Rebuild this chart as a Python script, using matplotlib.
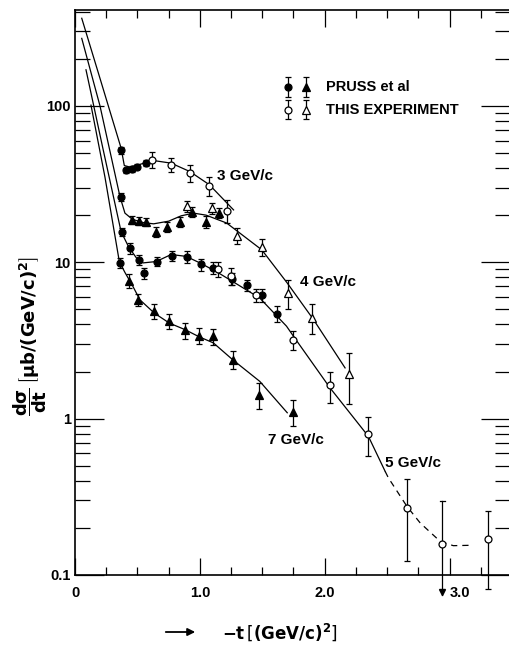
import numpy as np
import matplotlib
matplotlib.use('Agg')
import matplotlib.pyplot as plt
from matplotlib.ticker import LogLocator, NullFormatter, FixedLocator
from matplotlib.transforms import ScaledTranslation

plt.rcParams['font.family'] = ['Liberation Sans', 'DejaVu Sans']
plt.rcParams['mathtext.fontset'] = 'dejavusans'
plt.rcParams['mathtext.default'] = 'bf'

# ---- data ----
# 3 GeV/c
p3_x = [0.37, 0.41, 0.46, 0.50, 0.57]            # Pruss, filled circles
p3_y = [52.0, 38.7, 39.5, 40.9, 43.1]
p3_e = [2.6, 1.6, 1.6, 1.6, 2.0]
t3_x = [0.62, 0.77, 0.92, 1.076, 1.22]           # this experiment, open circles
t3_y = [45.2, 42.0, 37.2, 30.8, 21.4]
t3_e = [5.4, 4.2, 4.5, 4.3, 3.6]

# 4 GeV/c
p4c_x = [0.37]
p4c_y = [26.1]
p4c_e = [1.6]
p4_x = [0.46, 0.51, 0.57, 0.65, 0.74, 0.84, 0.94, 1.047, 1.154]
p4_y = [18.7, 18.4, 18.1, 15.6, 16.8, 18.1, 21.1, 18.2, 20.6]
p4_e = [1.1, 1.1, 1.1, 1.2, 1.3, 1.4, 1.5, 1.6, 1.5]
t4_x = [0.895, 1.095, 1.295, 1.496, 1.704, 1.90, 2.198]
t4_y = [22.8, 22.2, 14.8, 12.5, 6.4, 4.43, 1.94]
t4_e = [1.9, 1.8, 1.8, 1.5, 1.35, 0.95, 0.7]

# 5 GeV/c
p5_x = [0.38, 0.44, 0.513, 0.555, 0.66, 0.78, 0.895, 1.01, 1.108, 1.26, 1.381, 1.496, 1.616]
p5_y = [15.6, 12.3, 10.4, 8.5, 10.1, 11.0, 10.8, 9.7, 9.2, 7.8, 7.1, 6.14, 4.69]
p5_e = [0.9, 0.93, 0.8, 0.7, 0.7, 0.78, 0.95, 0.85, 0.8, 0.7, 0.6, 0.6, 0.56]
t5_x = [1.148, 1.247, 1.448, 1.75, 2.043, 2.35, 2.663, 3.31]
t5_y = [9.05, 8.2, 6.14, 3.2, 1.63, 0.80, 0.268, 0.169]
t5_e = [1.05, 1.0, 0.6, 0.45, 0.37, 0.22, 0.146, 0.088]
# upper-limit-like point with arrow
u5_x = 2.943
u5_y = 0.158
u5_hi = 0.296
u5_lo = 0.075

# 7 GeV/c
p7c_x = [0.36]
p7c_y = [9.9]
p7c_e = [0.75]
p7_x = [0.433, 0.507, 0.635, 0.756, 0.88, 0.996, 1.108, 1.263, 1.474, 1.744]
p7_y = [7.6, 5.75, 4.85, 4.19, 3.66, 3.39, 3.36, 2.38, 1.42, 1.11]
p7_e = [0.76, 0.52, 0.53, 0.46, 0.42, 0.4, 0.4, 0.31, 0.26, 0.21]

# fitted curves (knots)
c3_x = [0.054, 0.20, 0.369, 0.395, 0.44, 0.52, 0.62, 0.77, 0.92, 1.076, 1.27]
c3_y = [363, 150, 53.7, 41.5, 40.6, 42.2, 44.8, 43.0, 38.0, 31.3, 21.6]
c4_x = [0.054, 0.20, 0.36, 0.40, 0.46, 0.55, 0.63, 0.75, 0.85, 0.95, 1.05, 1.215,
        1.496, 1.70, 1.91, 2.163]
c4_y = [270, 100, 26.3, 20.6, 18.8, 17.9, 17.6, 18.3, 19.8, 20.6, 20.0, 17.8,
        12.0, 7.36, 4.30, 2.11]
c5_x = [0.088, 0.22, 0.369, 0.428, 0.49, 0.545, 0.65, 0.77, 0.89, 1.00, 1.133,
        1.266, 1.48, 1.694, 1.75, 2.043, 2.35, 2.484]
c5_y = [170, 55, 15.7, 12.6, 10.7, 9.9, 10.1, 11.2, 10.9, 9.9, 8.7,
        7.5, 5.9, 3.9, 3.36, 1.57, 0.77, 0.46]
c5d_x = [2.484, 2.51, 2.658, 2.765, 2.925, 3.03, 3.19]
c5d_y = [0.46, 0.418, 0.275, 0.215, 0.164, 0.154, 0.155]
c7_x = [0.128, 0.24, 0.355, 0.40, 0.46, 0.52, 0.635, 0.756, 0.88, 0.996, 1.108,
        1.263, 1.48, 1.70]
c7_y = [101, 35, 10.1, 8.6, 7.1, 5.75, 4.73, 4.08, 3.71, 3.33, 3.05,
        2.38, 1.73, 1.09]

labels = ['3 GeV/c', '4 GeV/c', '5 GeV/c', '7 GeV/c']

# ---- figure ----
fig = plt.figure(figsize=(5.09, 6.50), dpi=100)
ax = fig.add_axes([75 / 509, 75 / 650, 434.5 / 509, 565 / 650])
ax.set_yscale('log')
ax.set_xlim(0, 3.48)
ax.set_ylim(0.1, 410)

k = 'black'
lw = 0.9
for cx, cy in [(c3_x, c3_y), (c4_x, c4_y), (c5_x, c5_y), (c7_x, c7_y)]:
    ax.plot(cx, cy, color=k, lw=lw)
ax.plot(c5d_x, c5d_y, color=k, lw=lw, ls=(0, (5, 4)))

ebkw = dict(ls='none', ecolor=k, elinewidth=0.9, capsize=2.2, capthick=0.9,
            mec=k, mew=0.9, clip_on=False)
# filled circles
for xs, ys, es in [(p3_x, p3_y, p3_e), (p4c_x, p4c_y, p4c_e), (p5_x, p5_y, p5_e),
                   (p7c_x, p7c_y, p7c_e)]:
    ax.errorbar(xs, ys, yerr=es, marker='o', ms=5, mfc=k, **ebkw)
# filled triangles
for xs, ys, es in [(p4_x, p4_y, p4_e), (p7_x, p7_y, p7_e)]:
    ax.errorbar(xs, ys, yerr=es, marker='^', ms=6, mfc=k, **ebkw)
# open circles
for xs, ys, es in [(t3_x, t3_y, t3_e), (t5_x, t5_y, t5_e)]:
    ax.errorbar(xs, ys, yerr=es, marker='o', ms=5, mfc='white', **ebkw)
# open triangles
ax.errorbar(t4_x, t4_y, yerr=t4_e, marker='^', ms=6, mfc='white', **ebkw)

# point with downward arrow
ax.plot([u5_x, u5_x], [u5_lo, u5_hi], color=k, lw=0.9, clip_on=False)
ax.plot([u5_x - 0.02, u5_x + 0.02], [u5_hi, u5_hi], color=k, lw=0.9, clip_on=False)
ax.plot([u5_x], [u5_lo * 1.04], marker='v', ms=5, color=k, clip_on=False)
ax.plot([u5_x], [u5_y], marker='o', ms=5, mfc='white', mec=k, mew=0.9, zorder=5)

# curve labels
tkw = dict(fontsize=11, fontweight='bold', ha='left', va='center')
ax.text(1.136, 35.7, labels[0], **tkw)
ax.text(1.806, 7.43, labels[1], **tkw)
ax.text(2.486, 0.521, labels[2], **tkw)
ax.text(1.547, 0.735, labels[3], **tkw)

# legend drawn by hand
lkw = dict(ls='none', ecolor=k, elinewidth=0.9, capsize=2.2, capthick=0.9,
           mec=k, mew=0.9)
ax.errorbar([1.702], [131.6], yerr=[[17], [21]], marker='o', ms=5, mfc=k, **lkw)
ax.errorbar([1.854], [131.6], yerr=[[17], [21]], marker='^', ms=6, mfc=k, **lkw)
ax.errorbar([1.702], [94.3], yerr=[[12], [15]], marker='o', ms=5, mfc='white', **lkw)
ax.errorbar([1.854], [94.3], yerr=[[12], [15]], marker='^', ms=6, mfc='white', **lkw)
ax.text(2.014, 131.6, 'PRUSS et al', fontsize=10.5, fontweight='bold', va='center')
ax.text(2.014, 94.3, 'THIS EXPERIMENT', fontsize=10.5, fontweight='bold', va='center')

# ticks
ax.xaxis.set_major_locator(FixedLocator([0, 1, 2, 3]))
ax.set_xticklabels(['0', '1.0', '2.0', '3.0'])
ax.xaxis.set_minor_locator(FixedLocator(np.arange(0, 3.5, 0.25)))
ax.yaxis.set_major_locator(FixedLocator([0.1, 1, 10, 100]))
ax.set_yticklabels(['0.1', '1', '10', '100'])
ax.yaxis.set_minor_locator(LogLocator(base=10, subs=np.arange(2, 10)))
ax.yaxis.set_minor_formatter(NullFormatter())

ax.tick_params(which='both', direction='in', top=True, right=True, width=0.9,
               labelsize=10.5)
ax.tick_params(axis='x', which='major', length=12, pad=8)
ax.tick_params(axis='x', which='minor', length=6)
ax.tick_params(axis='y', which='major', length=21, pad=3)
ax.tick_params(axis='y', which='minor', length=11)
for lab in ax.get_xticklabels() + ax.get_yticklabels():
    lab.set_fontweight('bold')
# the "3.0" label sits a little to the right in the original
ax.get_xticklabels()[3].set_transform(ax.get_xticklabels()[3].get_transform() +
                                      ScaledTranslation(0.1, 0, fig.dpi_scale_trans))

for sp in ax.spines.values():
    sp.set_linewidth(1.2)

# axis titles
fig.text(30 / 509, 1 - 336 / 650,
         r'$\dfrac{d\sigma}{dt}\,\left[\mu b/(GeV/c)^{2}\right]$',
         rotation=90, ha='center', va='center', fontsize=13)
fig.text(222 / 509, 1 - 632 / 650, r'$-t\,\left[(GeV/c)^{2}\right]$',
         ha='left', va='center', fontsize=12)
fig.add_artist(matplotlib.patches.FancyArrowPatch(
    (163 / 509, 1 - 632 / 650), (198 / 509, 1 - 632 / 650),
    transform=fig.transFigure, arrowstyle='-|>', mutation_scale=11,
    color=k, lw=1.3))

fig.savefig('out.png', dpi=100)
